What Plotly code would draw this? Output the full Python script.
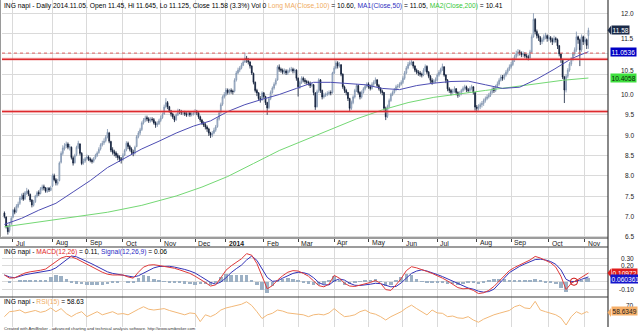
import pandas as pd
import plotly.graph_objects as go

# ---------------------------------------------------------------- data
# Budapest exchange closing days inside the window
holidays = ["2013-08-19", "2013-08-20", "2013-10-23", "2013-11-01", "2013-12-24",
            "2013-12-25", "2013-12-26", "2013-12-27", "2014-01-01", "2014-04-18",
            "2014-04-21", "2014-05-01", "2014-05-02", "2014-06-09", "2014-08-20",
            "2014-10-23", "2014-10-24"]
dates = [d for d in pd.bdate_range("2013-06-24", "2014-11-05")
         if d.strftime("%Y-%m-%d") not in holidays]

opens = [
    7.08, 6.98, 6.72, 6.65, 6.82, 6.98, 7.16, 7.12, 7.24, 7.32,
    7.44, 7.52, 7.44, 7.57, 7.63, 7.54, 7.40, 7.27, 7.36, 7.50,
    7.59, 7.56, 7.67, 7.73, 7.70, 7.61, 7.69, 7.64, 7.75, 8.00,
    7.90, 7.80, 7.88, 8.33, 8.55, 8.66, 8.73, 8.78, 8.69, 8.70,
    8.44, 8.32, 8.52, 8.70, 8.78, 8.55, 8.31, 8.36, 8.43, 8.46,
    8.41, 8.38, 8.36, 8.43, 8.50, 8.57, 8.66, 8.76, 8.81, 8.86,
    8.96, 9.05, 8.84, 8.64, 8.59, 8.56, 8.50, 8.46, 8.42, 8.40,
    8.51, 8.63, 8.80, 8.72, 8.66, 8.58, 8.56, 8.72, 8.96, 9.05,
    9.14, 9.30, 9.37, 9.43, 9.40, 9.35, 9.39, 9.38, 9.31, 9.25,
    9.28, 9.36, 9.43, 9.52, 9.70, 9.80, 9.70, 9.60, 9.52, 9.45,
    9.38, 9.50, 9.60, 9.58, 9.54, 9.56, 9.52, 9.50, 9.55, 9.50,
    9.52, 9.55, 9.58, 9.55, 9.45, 9.37, 9.30, 9.26, 9.20, 9.15,
    9.05, 9.00, 9.05, 9.12, 9.21, 9.40, 9.56, 9.76, 9.94, 10.00,
    10.11, 10.05, 10.10, 10.08, 10.08, 10.36, 10.53, 10.60, 10.65, 10.72,
    10.80, 10.90, 10.86, 10.80, 10.70, 10.52, 10.30, 10.10, 10.04, 9.90,
    9.88, 10.04, 9.95, 9.80, 9.68, 9.90, 10.05, 10.16, 10.26, 10.36,
    10.68, 10.62, 10.60, 10.55, 10.58, 10.53, 10.58, 10.60, 10.62, 10.58,
    10.60, 10.40, 10.18, 10.30, 10.40, 10.35, 10.32, 10.30, 10.28, 10.22,
    10.24, 10.04, 9.70, 10.08, 10.36, 10.10, 9.94, 9.98, 10.00, 10.02,
    10.05, 10.05, 10.53, 10.65, 10.78, 10.70, 10.73, 10.50, 10.19, 10.10,
    10.05, 9.90, 9.66, 9.80, 9.94, 10.10, 10.22, 10.05, 9.94, 10.05,
    10.14, 10.20, 10.26, 10.19, 10.15, 10.25, 10.30, 10.36, 10.22, 10.15,
    10.08, 10.05, 9.66, 9.46, 9.70, 9.85, 10.00, 10.05, 10.12, 10.19,
    10.20, 10.25, 10.30, 10.40, 10.53, 10.65, 10.74, 10.78, 10.80, 10.70,
    10.60, 10.55, 10.53, 10.50, 10.48, 10.60, 10.69, 10.55, 10.45, 10.35,
    10.30, 10.33, 10.36, 10.48, 10.55, 10.62, 10.68, 10.48, 10.35, 10.14,
    10.10, 10.05, 10.08, 10.14, 10.05, 9.98, 10.02, 10.10, 10.15, 10.19,
    10.12, 10.10, 10.15, 10.19, 10.05, 9.69, 9.66, 9.70, 9.75, 9.78,
    9.85, 9.90, 9.94, 9.98, 10.05, 10.14, 10.10, 10.20, 10.26, 10.35,
    10.43, 10.40, 10.48, 10.55, 10.62, 10.68, 10.74, 10.85, 10.93, 11.00,
    11.05, 11.02, 10.98, 11.00, 10.95, 10.93, 10.90, 11.05, 11.42, 11.85,
    11.55, 11.45, 11.40, 11.30, 11.35, 11.42, 11.45, 11.38, 11.40, 11.35,
    11.30, 11.38, 11.35, 11.20, 11.00, 10.85, 10.43, 10.11, 10.45, 10.60,
    10.75, 10.87, 11.00, 11.10, 11.42, 11.35, 11.10, 11.42, 11.30, 11.35,
    11.45]
highs = [
    7.12, 7.00, 6.78, 6.85, 7.00, 7.18, 7.22, 7.30, 7.36, 7.50,
    7.56, 7.58, 7.62, 7.70, 7.66, 7.56, 7.42, 7.40, 7.53, 7.62,
    7.64, 7.72, 7.78, 7.78, 7.72, 7.72, 7.72, 7.75, 8.05, 8.05,
    7.94, 7.92, 8.35, 8.60, 8.75, 8.80, 8.84, 8.82, 8.78, 8.72,
    8.48, 8.54, 8.74, 8.86, 8.80, 8.58, 8.42, 8.46, 8.52, 8.50,
    8.45, 8.42, 8.46, 8.54, 8.60, 8.70, 8.80, 8.86, 8.92, 9.00,
    9.15, 9.08, 8.86, 8.70, 8.64, 8.60, 8.55, 8.50, 8.46, 8.55,
    8.66, 8.85, 8.84, 8.76, 8.70, 8.64, 8.74, 9.00, 9.10, 9.18,
    9.34, 9.42, 9.48, 9.48, 9.44, 9.44, 9.44, 9.42, 9.34, 9.34,
    9.40, 9.48, 9.56, 9.75, 9.91, 9.84, 9.72, 9.62, 9.55, 9.48,
    9.54, 9.65, 9.64, 9.62, 9.60, 9.60, 9.57, 9.60, 9.58, 9.57,
    9.60, 9.64, 9.62, 9.57, 9.48, 9.40, 9.34, 9.30, 9.24, 9.18,
    9.08, 9.10, 9.18, 9.25, 9.44, 9.60, 9.80, 9.98, 10.06, 10.16,
    10.15, 10.14, 10.15, 10.12, 10.40, 10.58, 10.66, 10.70, 10.78, 10.86,
    11.03, 10.95, 10.90, 10.82, 10.72, 10.54, 10.32, 10.14, 10.06, 9.96,
    10.08, 10.06, 9.97, 9.82, 9.94, 10.10, 10.20, 10.30, 10.40, 10.72,
    10.74, 10.66, 10.64, 10.64, 10.62, 10.62, 10.66, 10.68, 10.66, 10.64,
    10.62, 10.42, 10.34, 10.45, 10.44, 10.40, 10.36, 10.34, 10.32, 10.30,
    10.26, 10.06, 10.12, 10.40, 10.38, 10.12, 10.04, 10.05, 10.08, 10.10,
    10.10, 10.56, 10.70, 10.84, 10.82, 10.80, 10.75, 10.52, 10.22, 10.14,
    10.06, 9.92, 9.85, 9.98, 10.14, 10.26, 10.24, 10.08, 10.10, 10.18,
    10.25, 10.30, 10.30, 10.24, 10.30, 10.35, 10.42, 10.38, 10.26, 10.18,
    10.12, 10.06, 9.70, 9.75, 9.90, 10.04, 10.10, 10.16, 10.24, 10.26,
    10.30, 10.35, 10.45, 10.58, 10.70, 10.80, 10.84, 10.87, 10.82, 10.72,
    10.64, 10.60, 10.58, 10.54, 10.65, 10.74, 10.72, 10.58, 10.48, 10.40,
    10.38, 10.42, 10.52, 10.60, 10.66, 10.76, 10.70, 10.50, 10.38, 10.18,
    10.14, 10.14, 10.20, 10.16, 10.08, 10.08, 10.14, 10.20, 10.24, 10.22,
    10.16, 10.20, 10.24, 10.20, 10.06, 9.74, 9.76, 9.80, 9.84, 9.90,
    9.95, 10.00, 10.04, 10.10, 10.18, 10.18, 10.24, 10.32, 10.40, 10.48,
    10.48, 10.52, 10.60, 10.66, 10.74, 10.80, 10.90, 10.98, 11.08, 11.12,
    11.10, 11.06, 11.06, 11.04, 11.00, 10.98, 11.10, 11.48, 12.00, 11.88,
    11.60, 11.50, 11.44, 11.40, 11.48, 11.52, 11.48, 11.46, 11.44, 11.40,
    11.45, 11.42, 11.38, 11.22, 11.02, 10.88, 10.46, 10.50, 10.65, 10.80,
    10.92, 11.05, 11.16, 11.55, 11.45, 11.38, 11.48, 11.45, 11.42, 11.38,
    11.645]
lows = [
    6.95, 6.70, 6.55, 6.60, 6.78, 6.95, 7.05, 7.08, 7.20, 7.28,
    7.40, 7.38, 7.40, 7.52, 7.50, 7.35, 7.22, 7.24, 7.33, 7.46,
    7.50, 7.54, 7.63, 7.64, 7.58, 7.58, 7.60, 7.62, 7.72, 7.86,
    7.76, 7.76, 7.86, 8.30, 8.50, 8.62, 8.68, 8.65, 8.62, 8.40,
    8.25, 8.30, 8.48, 8.66, 8.50, 8.26, 8.27, 8.32, 8.38, 8.36,
    8.33, 8.30, 8.32, 8.40, 8.46, 8.54, 8.62, 8.72, 8.76, 8.82,
    8.92, 8.80, 8.58, 8.52, 8.48, 8.44, 8.38, 8.34, 8.30, 8.36,
    8.48, 8.60, 8.66, 8.60, 8.52, 8.48, 8.52, 8.70, 8.92, 9.00,
    9.10, 9.26, 9.32, 9.34, 9.30, 9.31, 9.33, 9.26, 9.18, 9.20,
    9.25, 9.32, 9.40, 9.50, 9.66, 9.64, 9.55, 9.46, 9.40, 9.32,
    9.35, 9.47, 9.52, 9.50, 9.49, 9.47, 9.45, 9.46, 9.45, 9.46,
    9.48, 9.50, 9.49, 9.40, 9.32, 9.25, 9.20, 9.14, 9.08, 8.98,
    8.93, 8.95, 9.02, 9.08, 9.18, 9.36, 9.52, 9.72, 9.90, 9.96,
    10.00, 10.00, 10.02, 10.00, 10.05, 10.32, 10.50, 10.55, 10.62, 10.70,
    10.78, 10.78, 10.74, 10.64, 10.48, 10.25, 10.05, 9.96, 9.85, 9.80,
    9.84, 9.90, 9.74, 9.50, 9.64, 9.86, 10.02, 10.12, 10.22, 10.34,
    10.56, 10.54, 10.50, 10.50, 10.48, 10.48, 10.54, 10.56, 10.52, 10.52,
    10.34, 9.95, 10.14, 10.26, 10.30, 10.26, 10.24, 10.22, 10.16, 10.18,
    9.98, 9.62, 9.68, 10.04, 10.04, 9.88, 9.90, 9.94, 9.96, 9.98,
    9.98, 10.02, 10.50, 10.62, 10.64, 10.66, 10.45, 10.14, 10.04, 9.98,
    9.84, 9.58, 9.62, 9.76, 9.90, 10.06, 10.00, 9.88, 9.90, 10.02,
    10.10, 10.16, 10.14, 10.10, 10.12, 10.20, 10.26, 10.18, 10.10, 10.02,
    9.98, 9.60, 9.37, 9.42, 9.66, 9.82, 9.96, 10.02, 10.08, 10.14,
    10.16, 10.22, 10.26, 10.36, 10.50, 10.62, 10.70, 10.72, 10.64, 10.55,
    10.50, 10.46, 10.44, 10.42, 10.45, 10.56, 10.50, 10.40, 10.28, 10.24,
    10.26, 10.28, 10.32, 10.44, 10.50, 10.58, 10.44, 10.28, 10.08, 10.04,
    9.98, 10.00, 10.04, 9.98, 9.92, 9.94, 9.98, 10.06, 10.10, 10.06,
    10.04, 10.06, 10.10, 10.00, 9.60, 9.57, 9.60, 9.64, 9.68, 9.72,
    9.80, 9.86, 9.90, 9.94, 10.02, 10.04, 10.06, 10.16, 10.22, 10.32,
    10.34, 10.36, 10.44, 10.50, 10.58, 10.64, 10.70, 10.80, 10.88, 10.94,
    10.96, 10.92, 10.92, 10.90, 10.88, 10.84, 10.88, 11.02, 11.40, 11.48,
    11.38, 11.32, 11.22, 11.24, 11.30, 11.36, 11.30, 11.32, 11.28, 11.22,
    11.26, 11.28, 11.12, 10.94, 10.78, 10.38, 9.79, 10.05, 10.40, 10.56,
    10.70, 10.82, 10.95, 11.05, 11.25, 10.70, 11.05, 11.22, 11.25, 11.12,
    11.125]
closes = [
    7.00, 6.75, 6.62, 6.80, 6.95, 7.15, 7.10, 7.25, 7.30, 7.45,
    7.50, 7.42, 7.58, 7.62, 7.55, 7.40, 7.28, 7.35, 7.50, 7.58,
    7.55, 7.68, 7.72, 7.70, 7.62, 7.68, 7.65, 7.70, 8.00, 7.90,
    7.82, 7.85, 8.31, 8.55, 8.68, 8.72, 8.78, 8.70, 8.72, 8.45,
    8.31, 8.50, 8.70, 8.80, 8.55, 8.30, 8.35, 8.42, 8.46, 8.40,
    8.38, 8.35, 8.42, 8.50, 8.56, 8.65, 8.76, 8.80, 8.85, 8.95,
    9.07, 8.85, 8.63, 8.58, 8.55, 8.50, 8.45, 8.42, 8.39, 8.50,
    8.62, 8.80, 8.72, 8.65, 8.58, 8.55, 8.70, 8.96, 9.05, 9.13,
    9.30, 9.37, 9.42, 9.40, 9.35, 9.38, 9.38, 9.30, 9.25, 9.28,
    9.35, 9.42, 9.50, 9.69, 9.80, 9.70, 9.60, 9.52, 9.45, 9.37,
    9.50, 9.60, 9.58, 9.55, 9.55, 9.52, 9.50, 9.55, 9.50, 9.52,
    9.55, 9.57, 9.55, 9.45, 9.37, 9.30, 9.25, 9.20, 9.15, 9.05,
    9.00, 9.05, 9.12, 9.20, 9.40, 9.55, 9.75, 9.94, 10.00, 10.11,
    10.05, 10.10, 10.08, 10.07, 10.35, 10.53, 10.60, 10.65, 10.72, 10.80,
    10.90, 10.85, 10.80, 10.70, 10.53, 10.30, 10.10, 10.04, 9.90, 9.87,
    10.04, 9.95, 9.80, 9.67, 9.90, 10.05, 10.16, 10.25, 10.35, 10.68,
    10.62, 10.60, 10.55, 10.58, 10.53, 10.58, 10.60, 10.62, 10.58, 10.60,
    10.40, 10.19, 10.30, 10.40, 10.35, 10.32, 10.30, 10.28, 10.22, 10.25,
    10.05, 9.69, 10.07, 10.36, 10.10, 9.94, 9.98, 10.00, 10.02, 10.05,
    10.04, 10.53, 10.65, 10.78, 10.70, 10.74, 10.50, 10.19, 10.10, 10.05,
    9.90, 9.66, 9.80, 9.94, 10.10, 10.22, 10.05, 9.94, 10.05, 10.14,
    10.20, 10.26, 10.19, 10.15, 10.25, 10.30, 10.36, 10.22, 10.15, 10.08,
    10.05, 9.66, 9.45, 9.70, 9.85, 10.00, 10.05, 10.12, 10.19, 10.20,
    10.25, 10.30, 10.40, 10.53, 10.65, 10.74, 10.78, 10.80, 10.70, 10.60,
    10.55, 10.53, 10.50, 10.48, 10.60, 10.69, 10.55, 10.45, 10.35, 10.30,
    10.33, 10.36, 10.48, 10.55, 10.62, 10.69, 10.48, 10.35, 10.14, 10.10,
    10.05, 10.08, 10.14, 10.05, 9.98, 10.02, 10.10, 10.15, 10.19, 10.12,
    10.10, 10.15, 10.19, 10.05, 9.69, 9.66, 9.70, 9.75, 9.78, 9.85,
    9.90, 9.94, 9.98, 10.05, 10.14, 10.10, 10.20, 10.26, 10.35, 10.43,
    10.40, 10.48, 10.55, 10.62, 10.68, 10.74, 10.85, 10.93, 11.00, 11.05,
    11.02, 10.98, 11.00, 10.95, 10.93, 10.90, 11.05, 11.42, 11.85, 11.55,
    11.45, 11.40, 11.30, 11.35, 11.42, 11.45, 11.38, 11.40, 11.35, 11.30,
    11.38, 11.35, 11.20, 11.00, 10.85, 10.43, 10.11, 10.45, 10.60, 10.75,
    10.87, 11.00, 11.10, 11.42, 11.35, 11.10, 11.42, 11.30, 11.35, 11.21,
    11.58]

# moving averages (bar number, value)
ma50_bar = [0, 10, 20, 30, 40, 50, 60, 70, 80, 90, 100, 110, 120, 130, 140, 150, 160, 170,
            180, 190, 200, 210, 220, 230, 240, 250, 260, 270, 280, 290, 300, 310, 320, 330,
            335, 340]
ma50 = [6.80, 6.95, 7.15, 7.32, 7.60, 7.88, 8.20, 8.42, 8.66, 8.85, 9.05, 9.22, 9.35, 9.58,
        9.75, 9.88, 10.00, 10.15, 10.30, 10.30, 10.27, 10.24, 10.15, 10.12, 10.22, 10.28,
        10.32, 10.33, 10.24, 10.15, 10.18, 10.38, 10.62, 10.88, 10.97, 11.0536]
ma200_bar = [0, 20, 40, 60, 80, 100, 115, 130, 145, 160, 175, 190, 205, 220, 235, 250, 265,
             280, 295, 310, 325, 340]
ma200 = [6.74, 6.86, 6.97, 7.10, 7.27, 7.50, 7.72, 7.98, 8.30, 8.62, 8.88, 9.15, 9.40, 9.62,
         9.80, 9.93, 10.02, 10.10, 10.18, 10.27, 10.35, 10.4058]
long_ma100_last = 10.60

# oscillators, sampled every third bar plus the last bar
osc_bar = list(range(0, 340, 3)) + [340]
macd = [0.085, 0.045, 0.050, 0.085, 0.110, 0.125, 0.132, 0.145, 0.160, 0.205,
        0.255, 0.300, 0.320, 0.315, 0.290, 0.255, 0.215, 0.180, 0.150, 0.120,
        0.095, 0.085, 0.085, 0.085, 0.060, 0.045, 0.120, 0.185, 0.210, 0.215,
        0.205, 0.195, 0.185, 0.170, 0.150, 0.130, 0.105, 0.070, 0.035, -0.010,
        -0.055, -0.040, 0.050, 0.145, 0.200, 0.245, 0.290, 0.355, 0.335, 0.230,
        0.060, -0.090, -0.050, 0.020, 0.075, 0.120, 0.140, 0.135, 0.105, 0.070,
        0.010, -0.050, -0.065, -0.030, 0.080, 0.045, -0.020, -0.055, -0.060, -0.045,
        -0.030, -0.010, 0.015, -0.020, -0.100, -0.110, -0.040, 0.040, 0.140, 0.190,
        0.175, 0.155, 0.130, 0.105, 0.080, 0.045, 0.010, -0.030, -0.075, -0.090,
        -0.085, -0.110, -0.150, -0.140, -0.110, -0.060, 0.010, 0.075, 0.140, 0.180,
        0.210, 0.240, 0.275, 0.320, 0.300, 0.270, 0.240, 0.185, 0.070, -0.100,
        -0.020, 0.015, 0.055, 0.100,
        0.10972]
signal = [0.085, 0.060, 0.050, 0.070, 0.088, 0.100, 0.112, 0.124, 0.133, 0.145,
          0.175, 0.225, 0.285, 0.325, 0.315, 0.290, 0.255, 0.225, 0.190, 0.160,
          0.125, 0.105, 0.092, 0.085, 0.075, 0.060, 0.075, 0.105, 0.140, 0.175,
          0.192, 0.198, 0.195, 0.185, 0.172, 0.155, 0.135, 0.110, 0.070, 0.025,
          -0.010, -0.030, -0.005, 0.050, 0.115, 0.165, 0.210, 0.275, 0.325, 0.270,
          0.165, 0.055, 0.005, 0.010, 0.045, 0.075, 0.105, 0.120, 0.115, 0.095,
          0.050, -0.010, -0.040, -0.040, 0.010, 0.035, 0.020, -0.020, -0.045, -0.048,
          -0.042, -0.032, -0.020, -0.025, -0.045, -0.065, -0.060, -0.015, 0.045, 0.105,
          0.135, 0.150, 0.135, 0.115, 0.090, 0.065, 0.035, 0.005, -0.030, -0.060,
          -0.080, -0.095, -0.120, -0.132, -0.125, -0.095, -0.030, 0.045, 0.115, 0.160,
          0.195, 0.225, 0.250, 0.280, 0.285, 0.275, 0.255, 0.220, 0.150, 0.030,
          0.000, 0.005, 0.030, 0.055,
          0.060361]
rsi = [52, 60, 61, 62.7, 58, 60, 62, 59, 61, 66,
       60, 65, 57, 52, 57, 60, 52, 56, 60, 55,
       58, 60, 56, 57, 55, 60, 64, 68, 64, 62.7,
       64, 65, 62, 60, 57, 55, 58, 57, 44, 55,
       52, 56, 62.7, 66, 68, 70.6, 72, 76, 70, 60,
       49, 54.8, 57.4, 62.7, 61, 58, 57, 56, 55, 52,
       55, 56, 54.8, 58, 65, 58, 52, 53, 55, 60,
       62.7, 58, 56, 52, 46.6, 52, 56, 60, 66, 70.6,
       65, 60, 54.8, 62.7, 58, 57.4, 52, 53, 50, 49.3,
       52, 46.6, 43, 48, 52, 55, 57.4, 60, 62, 68,
       70.6, 66, 65, 76.7, 62.7, 60, 58, 55, 50, 38.5,
       52, 60, 56, 60,
       58.6349]

resistance = 10.87
support = 9.58
marker_level = 11.02
macd_cross_bar = 331.6

price_ticks = [6.5, 7.0, 7.5, 8.0, 8.5, 9.0, 9.5, 10.0, 10.5, 11.0, 11.5, 12.0]
price_labels = [6.5, 7.0, 7.5, 8.0, 8.5, 9.0, 9.5, 10.0, 10.5, 11.5, 12.0]
macd_ticks = [-0.1, 0.0, 0.1, 0.2, 0.3]
macd_labels = [-0.1, 0.2, 0.3]
rsi_ticks = [70]

# ---------------------------------------------------------------- geometry
W, H = 638, 332
L_PX, R_PX = 2, 608
bars = list(range(len(dates)))
hist = [m - s for m, s in zip(macd, signal)]


def px_y(p):  # paper y from a pixel row
    return 1 - p / H


def px_x(p):  # paper x from a pixel column
    return (p - L_PX) / (R_PX - L_PX)


# first trading bar of every month
month_bar, month_txt = [], []
for i, d in enumerate(dates):
    if i > 0 and d.month != dates[i - 1].month:
        month_bar.append(i)
        month_txt.append("<b>2014</b>" if d.month == 1 else d.strftime("%b"))

FONT = "Liberation Sans, Arial, sans-serif"
GRID = "#dadada"

fig = go.Figure()

fig.add_trace(go.Candlestick(
    x=bars, open=opens, high=highs, low=lows, close=closes,
    increasing=dict(line=dict(color="#7d92ad", width=0.8), fillcolor="#d3dde8"),
    decreasing=dict(line=dict(color="#0f1d38", width=0.8), fillcolor="#0f1d38"),
    whiskerwidth=0, xaxis="x", yaxis="y", showlegend=False, hoverinfo="skip"))
fig.add_trace(go.Scatter(x=ma200_bar, y=ma200, mode="lines",
                         line=dict(color="#74d874", width=1), xaxis="x", yaxis="y"))
fig.add_trace(go.Scatter(x=ma50_bar, y=ma50, mode="lines",
                         line=dict(color="#4d4db3", width=1), xaxis="x", yaxis="y"))

fig.add_trace(go.Bar(x=osc_bar, y=hist, width=2.0, marker=dict(color="#9cb0c4", line=dict(width=0)),
                     xaxis="x2", yaxis="y2"))
fig.add_trace(go.Scatter(x=osc_bar, y=signal, mode="lines",
                         line=dict(color="#3333b8", width=1), xaxis="x2", yaxis="y2"))
fig.add_trace(go.Scatter(x=osc_bar, y=macd, mode="lines",
                         line=dict(color="#e03a3a", width=1), xaxis="x2", yaxis="y2"))

fig.add_trace(go.Scatter(x=osc_bar, y=rsi, mode="lines",
                         line=dict(color="#f2b878", width=1), xaxis="x3", yaxis="y3"))

x_range = [(L_PX - 4.4) / 1.7177, (R_PX - 4.4) / 1.7177]
xcommon = dict(range=x_range, tickvals=month_bar, showticklabels=False, showgrid=True,
               gridcolor=GRID, gridwidth=1, zeroline=False, showline=False, fixedrange=True)

# price panel: rows 0-238, MACD 247-297, RSI 297-326.5
price_lo, price_hi = 12 - (238 - 13.3) / 40.6, 12 + 13.3 / 40.6
macd_lo, macd_hi = -(297 - 281.7) / 79, (281.7 - 247) / 79
rsi_lo, rsi_hi = 70 - (326.5 - 305.5) / 0.62, 70 + (305.5 - 297) / 0.62

fig.update_layout(
    width=W, height=H, margin=dict(l=L_PX, r=W - R_PX, t=0, b=0),
    paper_bgcolor="white", plot_bgcolor="white", showlegend=False, bargap=0,
    font=dict(family=FONT, size=7, color="#111"),
    xaxis=dict(**xcommon, anchor="y", ticks="outside", ticklen=3, tickcolor="#444",
               rangeslider=dict(visible=False)),
    xaxis2=dict(**xcommon, anchor="y2", matches="x"),
    xaxis3=dict(**xcommon, anchor="y3", matches="x"),
    yaxis=dict(domain=[px_y(238), 1], range=[price_lo, price_hi], tickvals=price_ticks,
               showticklabels=False, showgrid=True, gridcolor=GRID, zeroline=False),
    yaxis2=dict(domain=[px_y(297), px_y(247)], range=[macd_lo, macd_hi], tickvals=macd_ticks,
                showticklabels=False, showgrid=True, gridcolor=GRID, zeroline=False),
    yaxis3=dict(domain=[px_y(326.5), px_y(297)], range=[rsi_lo, rsi_hi], tickvals=rsi_ticks,
                showticklabels=False, showgrid=False, zeroline=False),
)

shapes = []
# support / resistance and marker level
for lvl in (resistance, support):
    shapes.append(dict(type="line", xref="paper", yref="y", x0=0, x1=1, y0=lvl, y1=lvl,
                       line=dict(color="rgba(236,130,130,0.30)", width=3.5)))
    shapes.append(dict(type="line", xref="paper", yref="y", x0=0, x1=1, y0=lvl, y1=lvl,
                       line=dict(color="#de2a2e", width=1.5)))
shapes.append(dict(type="line", xref="paper", yref="y", x0=0, x1=1, y0=marker_level,
                   y1=marker_level, line=dict(color="#e06060", width=1, dash="dot")))
# crossover ring on the MACD
rx, ry = 3.6 / 1.7177, 3.6 / 79
shapes.append(dict(type="circle", xref="x2", yref="y2", x0=macd_cross_bar - rx,
                   x1=macd_cross_bar + rx, y0=-ry, y1=ry, line=dict(color="#cc1010", width=1)))
# panel frames
frame = "#3a3a3a"
for y in (238, 247, 297):
    shapes.append(dict(type="line", xref="paper", yref="paper", x0=px_x(0), x1=1,
                       y0=px_y(y), y1=px_y(y), line=dict(color=frame, width=1.2)))
shapes.append(dict(type="line", xref="paper", yref="paper", x0=1, x1=1, y0=px_y(327),
                   y1=1, line=dict(color=frame, width=1.2)))
shapes.append(dict(type="line", xref="paper", yref="paper", x0=px_x(0.5), x1=px_x(0.5),
                   y0=px_y(238), y1=1, line=dict(color="#9a9a9a", width=1)))

annotations = []
tick_x = px_x(636)
# labels that sit next to a value box are nudged off it
label_nudge = {11.5: -5, 10.5: 4}
for v in price_labels:
    annotations.append(dict(x=tick_x, y=v, xref="paper", yref="y", text=f"{v:.1f}",
                            showarrow=False, xanchor="right", yanchor="middle",
                            yshift=label_nudge.get(v, 0), font=dict(size=6.5, color="#222")))
for v in macd_labels:
    annotations.append(dict(x=tick_x, y=v, xref="paper", yref="y2", text=f"{v:.2f}",
                            showarrow=False, xanchor="right", yanchor="middle",
                            font=dict(size=6.5, color="#222")))
for v in rsi_ticks:
    annotations.append(dict(x=tick_x, y=v, xref="paper", yref="y3", text=f"{v}",
                            showarrow=False, xanchor="right", yanchor="middle",
                            font=dict(size=6.5, color="#222")))

# month labels under the price panel
for b, t in zip(month_bar, month_txt):
    annotations.append(dict(x=b, y=px_y(243), xref="x", yref="paper", text=t, showarrow=False,
                            xanchor="left", yanchor="middle", xshift=1,
                            font=dict(size=6.8, color="#222")))


def value_box(val, yref, text, bg, fg, x_px, arrow, h, yshift=0):
    annotations.append(dict(x=px_x(x_px), y=val, xref="paper", yref=yref, text=text,
                            showarrow=False, xanchor="left", yanchor="middle", yshift=yshift,
                            bgcolor=bg, borderpad=0.5, font=dict(size=6.6, color=fg)))
    if arrow:
        shapes.append(dict(type="path", xref="paper", yref=yref, fillcolor=bg, line=dict(width=0),
                           path=f"M {px_x(x_px - 3.5)},{val} L {px_x(x_px)},{val + h} "
                                f"L {px_x(x_px)},{val - h} Z"))


value_box(closes[-1], "y", f"{closes[-1]:.2f}", "#1a2a48", "white", 611, True, 4.5 / 40.6)
value_box(ma50[-1], "y", f"{ma50[-1]:.4f}", "#0000c4", "white", 610, False, 0)
value_box(ma200[-1], "y", f"{ma200[-1]:.4f}", "#3ee03e", "#0a200a", 610, False, 0)
value_box(macd[-1], "y2", f"{macd[-1]:.5f}", "#e01c1c", "white", 611, True, 4.5 / 79)
value_box(signal[-1], "y2", f"{signal[-1]:.6f}", "#1414cc", "white", 610, False, 0, yshift=-2)
value_box(rsi[-1], "y3", f"{rsi[-1]:.4f}", "#f6b06a", "#222", 611, True, 4.5 / 0.62, yshift=2)

# legends
chg = (closes[-1] / closes[-2] - 1) * 100
title = (f"ING napi - Daily {dates[-1].strftime('%Y.%m.%d')}. Open {opens[-1]:.2f}, "
         f"Hi {highs[-1]:.3f}, Lo {lows[-1]:.3f}, Close {closes[-1]:.2f} ({chg:.1f}%) Vol 0 "
         f"<span style='color:#f0ac62'>Long MA(Close,100)</span> = {long_ma100_last:.2f}, "
         f"<span style='color:#2f2fc0'>MA1(Close,50)</span> = {ma50[-1]:.2f}, "
         f"<span style='color:#36c836'>MA2(Close,200)</span> = {ma200[-1]:.2f}")
annotations.append(dict(x=0, y=px_y(6), xref="paper", yref="paper", text=title,
                        showarrow=False, xanchor="left", yanchor="middle",
                        font=dict(size=6.7, color="#000")))
annotations.append(dict(x=0, y=px_y(251.5), xref="paper", yref="paper",
                        text=(f"ING napi - <span style='color:#e02424'>MACD(12,26)</span> = "
                              f"{macd[-1]:.2f}, <span style='color:#2a2ac4'>Signal(12,26,9)</span>"
                              f" = {signal[-1]:.2f}"),
                        showarrow=False, xanchor="left", yanchor="middle",
                        font=dict(size=6.7, color="#000")))
annotations.append(dict(x=0, y=px_y(301.5), xref="paper", yref="paper",
                        text=(f"ING napi - <span style='color:#f0ac62'>RSI(15)</span> = "
                              f"{rsi[-1]:.2f}"),
                        showarrow=False, xanchor="left", yanchor="middle",
                        font=dict(size=6.7, color="#000")))
annotations.append(dict(x=0, y=px_y(328.8), xref="paper", yref="paper",
                        text=("Created with AmiBroker - advanced charting and technical analysis "
                              "software. http://www.amibroker.com"),
                        showarrow=False, xanchor="left", yanchor="middle",
                        font=dict(size=4.2, color="#333")))

fig.update_layout(shapes=shapes, annotations=annotations)
fig.write_html("out.html")
